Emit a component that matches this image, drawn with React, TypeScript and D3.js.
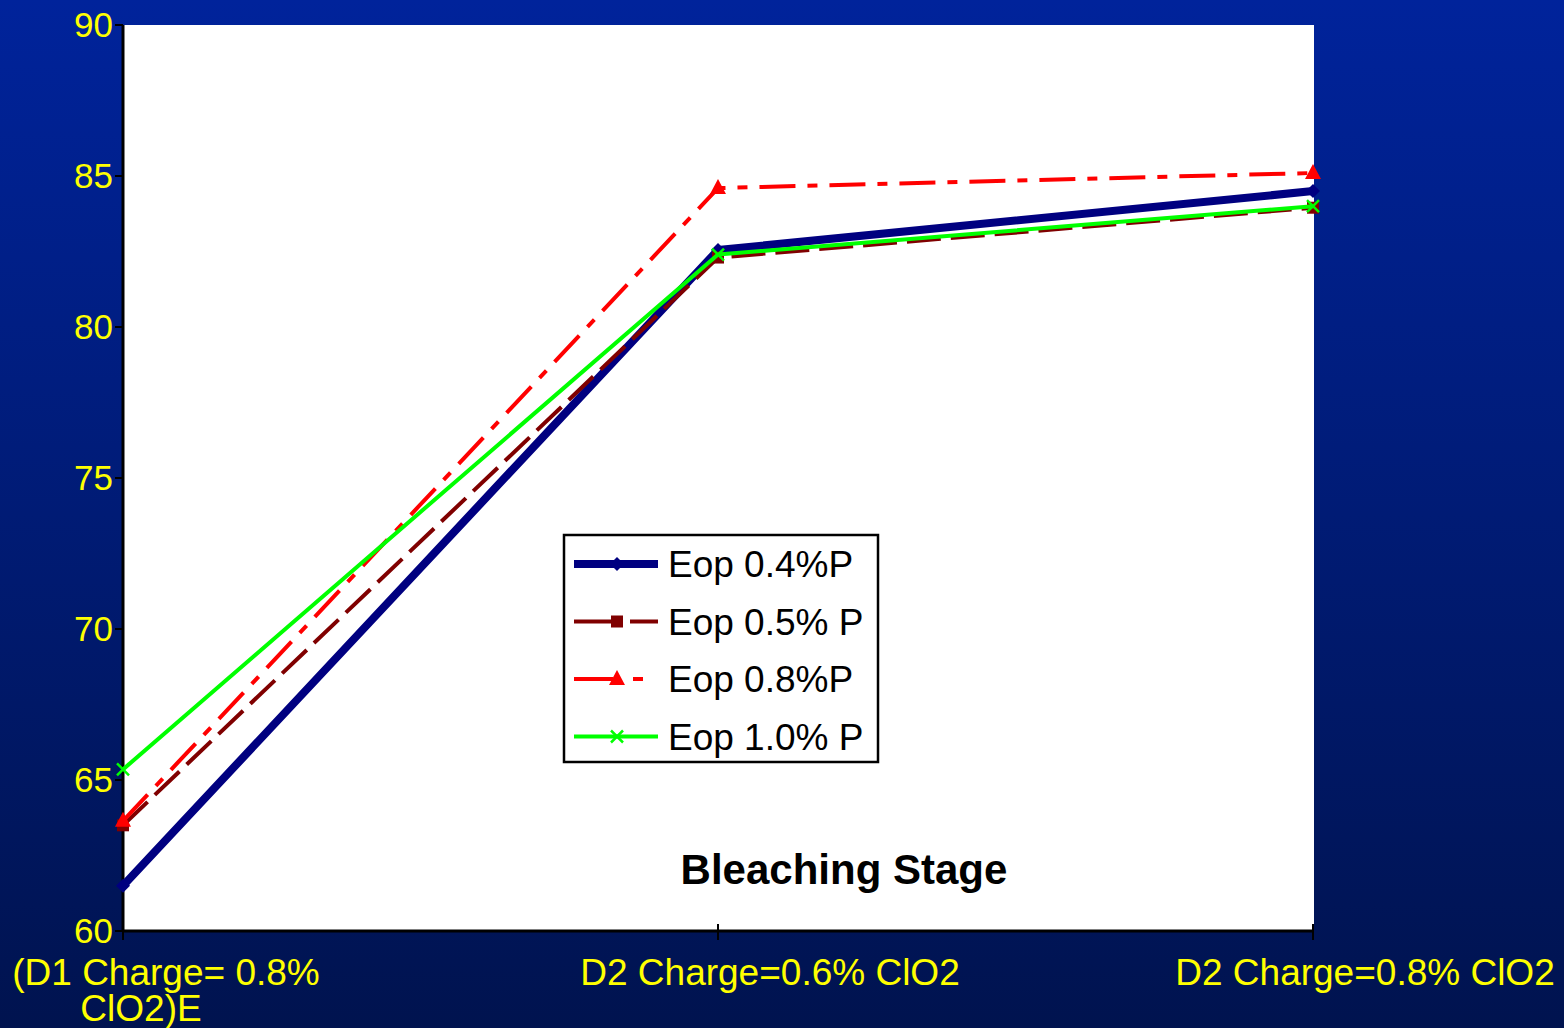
import React from "react";
import * as d3 from "d3";

const categories = ["(D1 Charge= 0.8%|ClO2)E", "D2 Charge=0.6% ClO2", "D2 Charge=0.8% ClO2"];
const yTicks = [60, 65, 70, 75, 80, 85, 90];

const seriesNames = ["Eop 0.4%P", "Eop 0.5% P", "Eop 0.8%P", "Eop 1.0% P"];
const eop04 = [61.5, 82.55, 84.5];
const eop05 = [63.5, 82.3, 83.95];
const eop08 = [63.65, 84.6, 85.1];
const eop10 = [65.35, 82.4, 84.0];

const W = 1564;
const H = 1028;
const plot = { left: 123, right: 1314, top: 25, bottom: 931 };
const font = "'Liberation Sans', Arial, sans-serif";

type Style = {
  color: string;
  width: number;
  dash?: string;
  marker: "diamond" | "square" | "triangle" | "x";
};

const styles: Style[] = [
  { color: "#000080", width: 8, marker: "diamond" },
  { color: "#800000", width: 4, dash: "34,10", marker: "square" },
  { color: "#ff0000", width: 4, dash: "36,12,10,12", marker: "triangle" },
  { color: "#00ff00", width: 4, marker: "x" },
];

function Marker({ kind, x, y, color }: { kind: Style["marker"]; x: number; y: number; color: string }) {
  if (kind === "diamond") {
    const r = 7;
    return <path d={`M${x},${y - r}L${x + r},${y}L${x},${y + r}L${x - r},${y}Z`} fill={color} />;
  }
  if (kind === "square") {
    return <rect x={x - 6} y={y - 6} width={12} height={12} fill={color} />;
  }
  if (kind === "triangle") {
    return <path d={`M${x},${y - 9}L${x + 8},${y + 6}L${x - 8},${y + 6}Z`} fill={color} />;
  }
  const r = 6;
  return (
    <g stroke={color} strokeWidth={2.5}>
      <line x1={x - r} y1={y - r} x2={x + r} y2={y + r} />
      <line x1={x - r} y1={y + r} x2={x + r} y2={y - r} />
    </g>
  );
}

export default function App() {
  const x = d3.scalePoint<string>().domain(categories).range([plot.left, plot.right - 1]).padding(0);
  const y = d3.scaleLinear().domain([60, 90]).range([plot.bottom, plot.top]);
  const allSeries = [eop04, eop05, eop08, eop10];

  const line = d3
    .line<number>()
    .x((_, i) => x(categories[i]) as number)
    .y((v) => y(v));

  const legendX = 564;
  const legendY = 535;
  const legendRowH = 57.5;

  return (
    <svg
      width={W}
      height={H}
      style={{ position: "fixed", left: 0, top: 0, display: "block" }}
      fontFamily={font}
    >
      <defs>
        <linearGradient id="bg" x1="0" y1="0" x2="0" y2="1">
          <stop offset="0%" stopColor="#00239b" />
          <stop offset="100%" stopColor="#00134f" />
        </linearGradient>
      </defs>
      <rect x={0} y={0} width={W} height={H} fill="url(#bg)" />
      <rect x={plot.left} y={plot.top} width={plot.right - plot.left} height={plot.bottom - plot.top} fill="#ffffff" />

      {/* y axis */}
      <line x1={plot.left} y1={plot.top} x2={plot.left} y2={plot.bottom} stroke="#000" strokeWidth={3} />
      {yTicks.map((t) => (
        <g key={t}>
          <line x1={plot.left - 8} x2={plot.left} y1={y(t)} y2={y(t)} stroke="#000" strokeWidth={2} />
          <text x={113} y={y(t) + 12} textAnchor="end" fill="#ffff00" fontSize={35}>
            {t}
          </text>
        </g>
      ))}

      {/* x axis */}
      <line x1={plot.left} y1={plot.bottom} x2={plot.right} y2={plot.bottom} stroke="#000" strokeWidth={3} />
      {categories.map((c, i) => {
        const cx = x(c) as number;
        const lines = c.split("|");
        return (
          <g key={c}>
            <line x1={cx} x2={cx} y1={plot.bottom - 7} y2={plot.bottom + 9} stroke="#000" strokeWidth={2} />
            {lines.length === 1 ? (
              <text x={cx + 52} y={985} textAnchor="middle" fill="#ffff00" fontSize={37}>
                {lines[0]}
              </text>
            ) : (
              <>
                <text x={cx + 43} y={985} textAnchor="middle" fill="#ffff00" fontSize={37}>
                  {lines[0]}
                </text>
                <text x={cx + 18} y={1021} textAnchor="middle" fill="#ffff00" fontSize={37}>
                  {lines[1]}
                </text>
              </>
            )}
          </g>
        );
      })}

      {/* series */}
      {allSeries.map((vals, si) => {
        const s = styles[si];
        return (
          <g key={seriesNames[si]}>
            <path
              d={line(vals) as string}
              fill="none"
              stroke={s.color}
              strokeWidth={s.width}
              strokeDasharray={s.dash}
              strokeLinejoin="round"
            />
            {vals.map((v, i) => (
              <Marker key={i} kind={s.marker} x={x(categories[i]) as number} y={y(v)} color={s.color} />
            ))}
          </g>
        );
      })}

      {/* axis title */}
      <text x={844} y={884} textAnchor="middle" fontWeight="bold" fontSize={42} fill="#000">
        Bleaching Stage
      </text>

      {/* legend */}
      <rect x={legendX} y={legendY} width={314} height={227} fill="#ffffff" stroke="#000" strokeWidth={2.5} />
      {seriesNames.map((n, i) => {
        const s = styles[i];
        const cy = legendY + 29 + i * legendRowH;
        return (
          <g key={n}>
            <line
              x1={574}
              x2={658}
              y1={cy}
              y2={cy}
              stroke={s.color}
              strokeWidth={s.width}
              strokeDasharray={s.dash ? (i === 1 ? "40,16,30" : "39,20,10") : undefined}
            />
            <Marker kind={s.marker} x={617} y={cy} color={s.color} />
            <text x={668} y={cy + 13} fontSize={37} fill="#000">
              {n}
            </text>
          </g>
        );
      })}
    </svg>
  );
}
